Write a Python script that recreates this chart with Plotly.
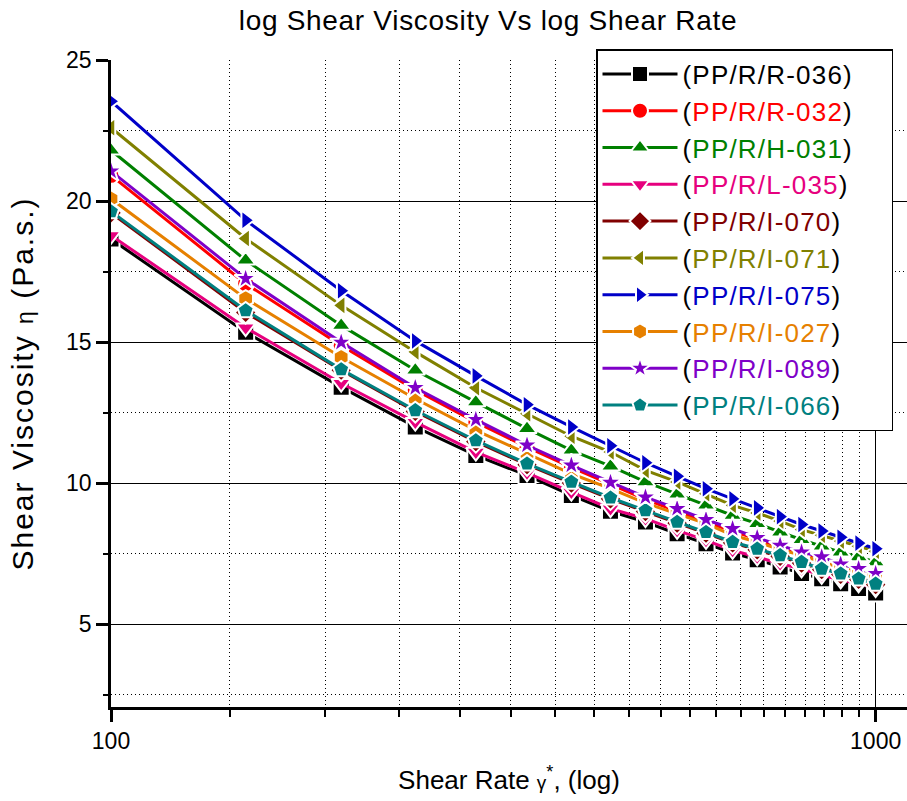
import plotly.graph_objects as go

# Shear rate (1/s) sampled every 50 from 100 to 1000
shear_rate = [100, 150, 200, 250, 300, 350, 400, 450, 500, 550,
              600, 650, 700, 750, 800, 850, 900, 950, 1000]

# Shear viscosity (Pa.s) per sample
visc_r036 = [18.65, 15.35, 13.40, 11.99, 10.98, 10.27, 9.56, 9.00, 8.62, 8.20,
             7.85, 7.52, 7.28, 7.02, 6.79, 6.61, 6.43, 6.26, 6.10]
visc_r032 = [20.91, 17.07, 14.88, 13.30, 12.16, 11.27, 10.56, 9.95, 9.42, 9.00,
             8.62, 8.30, 8.00, 7.72, 7.48, 7.28, 7.06, 6.90, 6.72]
visc_h031 = [21.80, 17.90, 15.59, 14.00, 12.87, 11.93, 11.16, 10.60, 10.04, 9.60,
             9.21, 8.85, 8.56, 8.26, 7.99, 7.76, 7.55, 7.38, 7.20]
visc_l035 = [18.78, 15.51, 13.54, 12.16, 11.10, 10.36, 9.68, 9.09, 8.74, 8.32,
             7.97, 7.61, 7.38, 7.14, 6.96, 6.73, 6.57, 6.43, 6.26]
visc_i070 = [19.58, 16.05, 14.00, 12.54, 11.47, 10.65, 10.00, 9.44, 8.99, 8.58,
             8.22, 7.88, 7.63, 7.40, 7.16, 6.93, 6.76, 6.58, 6.40]
visc_i071 = [22.60, 18.67, 16.30, 14.65, 13.38, 12.46, 11.66, 11.10, 10.45, 10.04,
             9.62, 9.21, 8.94, 8.65, 8.35, 8.15, 7.94, 7.76, 7.58]
visc_i075 = [23.54, 19.32, 16.82, 15.04, 13.80, 12.78, 11.99, 11.32, 10.72, 10.24,
             9.80, 9.44, 9.12, 8.81, 8.53, 8.30, 8.08, 7.87, 7.67]
visc_i027 = [20.08, 16.54, 14.46, 12.99, 11.87, 11.04, 10.33, 9.80, 9.29, 8.91,
             8.56, 8.15, 7.91, 7.64, 7.44, 7.20, 7.00, 6.84, 6.67]
visc_i089 = [21.06, 17.25, 14.99, 13.38, 12.25, 11.34, 10.63, 10.02, 9.50, 9.09,
             8.70, 8.38, 8.06, 7.79, 7.55, 7.38, 7.12, 6.96, 6.79]
visc_i066 = [19.63, 16.12, 14.03, 12.58, 11.51, 10.69, 10.04, 9.48, 9.03, 8.62,
             8.26, 7.91, 7.67, 7.44, 7.20, 6.96, 6.79, 6.61, 6.43]

sample_names = ["PP/R/R-036", "PP/R/R-032", "PP/R/H-031", "PP/R/L-035", "PP/R/I-070",
                "PP/R/I-071", "PP/R/I-075", "PP/R/I-027", "PP/R/I-089", "PP/R/I-066"]
sample_values = [visc_r036, visc_r032, visc_h031, visc_l035, visc_i070,
                 visc_i071, visc_i075, visc_i027, visc_i089, visc_i066]
sample_colors = ["#000000", "#FF0000", "#008000", "#E6007E", "#800000",
                 "#808000", "#0000C8", "#E68000", "#7F00C8", "#008080"]
sample_symbols = ["square", "circle", "triangle-up", "triangle-down", "diamond",
                  "triangle-left", "triangle-right", "hexagon", "star", "pentagon"]

# Axis ticks
x_major = [100, 1000]
x_minor = [143 + 47.6 * k for k in range(18)]
y_major = [5, 10, 15, 20, 25]
y_grid = [5, 10, 15, 20]
y_minor = [2.5, 7.5, 12.5, 17.5, 22.5]

FONT = "Arial, Liberation Sans, sans-serif"


def spaced(text, px):
    return f"<span style='letter-spacing:{px}px'>{text}</span>"


def legend_label(name, col):
    # closing bracket carries extra trailing spacing to widen the legend box
    return (spaced(f"(<span style='color:{col}'>{name}</span>", 1.2)
            + "<span style='letter-spacing:34px'>)</span>")


fig = go.Figure()
for name, vals, col, sym in zip(sample_names, sample_values, sample_colors, sample_symbols):
    fig.add_trace(go.Scatter(
        x=shear_rate, y=vals, mode="lines+markers",
        name=legend_label(name, col),
        line=dict(color=col, width=3),
        marker=dict(symbol=sym, size=17, color=col,
                    line=dict(color="white", width=2)),
    ))

# invisible trace on the overlay axis so its major gridlines are drawn
fig.add_trace(go.Scatter(x=[100], y=[5], yaxis="y2", mode="markers",
                         marker=dict(opacity=0), showlegend=False, hoverinfo="skip"))

fig.update_layout(
    width=907, height=801,
    margin=dict(l=111, r=0, t=60, b=94),
    paper_bgcolor="white", plot_bgcolor="white",
    font=dict(family=FONT, color="black"),
    title=dict(text=spaced("log Shear Viscosity Vs log Shear Rate", 0.7),
               font=dict(size=28, family=FONT, color="black"),
               x=488 / 907, xref="container", xanchor="center",
               y=1 - 20 / 801, yref="container", yanchor="middle"),
    xaxis=dict(
        type="log", range=[2, 3.041],
        tickmode="array", tickvals=x_major, ticktext=["100", "1000"],
        ticks="outside", ticklen=12, tickwidth=2.5, tickcolor="black",
        tickfont=dict(size=23, family=FONT),
        showline=True, linecolor="black", linewidth=2.5,
        showgrid=True, gridcolor="black", gridwidth=1,
        zeroline=False,
        minor=dict(tickmode="array", tickvals=x_minor, ticks="outside",
                   ticklen=7, tickwidth=2, tickcolor="black",
                   showgrid=True, gridcolor="black", gridwidth=1, griddash="1px,3px"),
        title=dict(text="Shear Rate <span style='font-size:19px'>γ</span><sup>*</sup>, (log)",
                   font=dict(size=26, family=FONT), standoff=18),
    ),
    yaxis=dict(
        range=[2.06, 25],
        tickmode="array", tickvals=y_major,
        ticks="outside", ticklen=12, tickwidth=2.5, tickcolor="black",
        tickfont=dict(size=23, family=FONT),
        showline=True, linecolor="black", linewidth=2.5,
        showgrid=False, zeroline=False,
        minor=dict(tickmode="array", tickvals=y_minor, ticks="outside",
                   ticklen=5, tickwidth=2, tickcolor="black",
                   showgrid=True, gridcolor="black", gridwidth=1, griddash="1px,3px"),
        title=dict(text=spaced("Shear Viscosity <span style='font-size:23px'>η</span> (Pa.s.)", 2),
                   font=dict(size=30, family=FONT), standoff=24),
    ),
    yaxis2=dict(
        overlaying="y", matches="y",
        tickmode="array", tickvals=y_grid,
        showgrid=True, gridcolor="black", gridwidth=1,
        showticklabels=False, ticks="", showline=False, zeroline=False,
    ),
    legend=dict(
        x=(596 - 111) / 796, y=1 + 11 / 647, xanchor="left", yanchor="top",
        bgcolor="white", bordercolor="black", borderwidth=1.5,
        font=dict(size=26, family=FONT, color="black"),
        itemwidth=75, tracegroupgap=0,
    ),
    showlegend=True,
)

fig.write_html("out.html")
